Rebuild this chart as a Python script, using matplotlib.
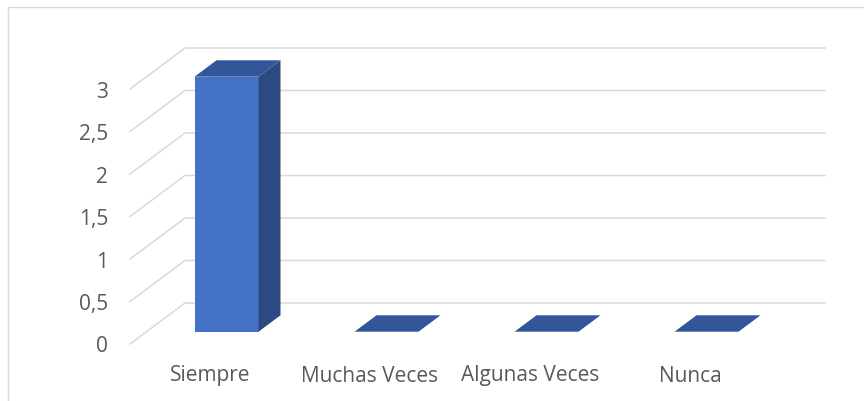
import matplotlib.pyplot as plt
from matplotlib.patches import Polygon, Rectangle

# data
categories = ['Siempre', 'Muchas Veces', 'Algunas Veces', 'Nunca']
values = [3, 0, 0, 0]
y_ticks = [0, 0.5, 1, 1.5, 2, 2.5, 3]
y_tick_labels = ['0', '0,5', '1', '1,5', '2', '2,5', '3']

# oblique projection (depth vector in data units)
depth_x = 55 / 160
depth_y = 41 / 85
bar_width = 0.4
bar_d0, bar_d1 = 0.3, 0.7

front_col = '#4472C4'
side_col = '#2B4A82'
top_col = '#31579A'
grid_col = '#D9D9D9'
text_col = '#595959'


def proj(x, v, d):
    return (x + d * depth_x, v + d * depth_y)


fig = plt.figure(figsize=(8.64, 4.01), dpi=100)
ax = fig.add_axes([0, 0, 1, 1])
ax.set_xlim(-130 / 160, 734 / 160)
ax.set_ylim(-57 / 85, 344 / 85)
ax.axis('off')

# outer chart border
ax.add_patch(Rectangle((7.5 / 864, -0.05), 1.0, 1.05 - 7.5 / 401, transform=ax.transAxes,
                       fill=False, edgecolor=grid_col, linewidth=1.0))

ncat = len(categories)
# gridlines: diagonal on left wall + horizontal on back wall
for t in y_ticks:
    p0 = proj(0, t, 0)
    p1 = proj(0, t, 1)
    p2 = proj(ncat, t, 1)
    ax.plot([p0[0], p1[0], p2[0]], [p0[1], p1[1], p2[1]], color=grid_col, lw=1.1,
            solid_joinstyle='miter', zorder=1)

for t, lab in zip(y_ticks, y_tick_labels):
    ax.text(-22 / 160, t - 3 / 85, lab, ha='right', va='center', fontsize=15,
            family='Open Sans', color=text_col)

# bars
for i, (cat, val) in enumerate(zip(categories, values)):
    x0 = i + 0.5 - bar_width / 2
    x1 = i + 0.5 + bar_width / 2
    if val > 0:
        front = [proj(x0, 0, bar_d0), proj(x1, 0, bar_d0), proj(x1, val, bar_d0), proj(x0, val, bar_d0)]
        side = [proj(x1, 0, bar_d0), proj(x1, 0, bar_d1), proj(x1, val, bar_d1), proj(x1, val, bar_d0)]
        ax.add_patch(Polygon(front, closed=True, facecolor=front_col, edgecolor='none', zorder=3))
        ax.add_patch(Polygon(side, closed=True, facecolor=side_col, edgecolor='none', zorder=3))
    top = [proj(x0, val, bar_d0), proj(x1, val, bar_d0), proj(x1, val, bar_d1), proj(x0, val, bar_d1)]
    ax.add_patch(Polygon(top, closed=True, facecolor=top_col, edgecolor='none', zorder=4))
    ax.text(i + 0.5, -32 / 85, cat, ha='center', va='center', fontsize=15,
            family='Open Sans', color=text_col)

fig.savefig('out.png', dpi=100)
